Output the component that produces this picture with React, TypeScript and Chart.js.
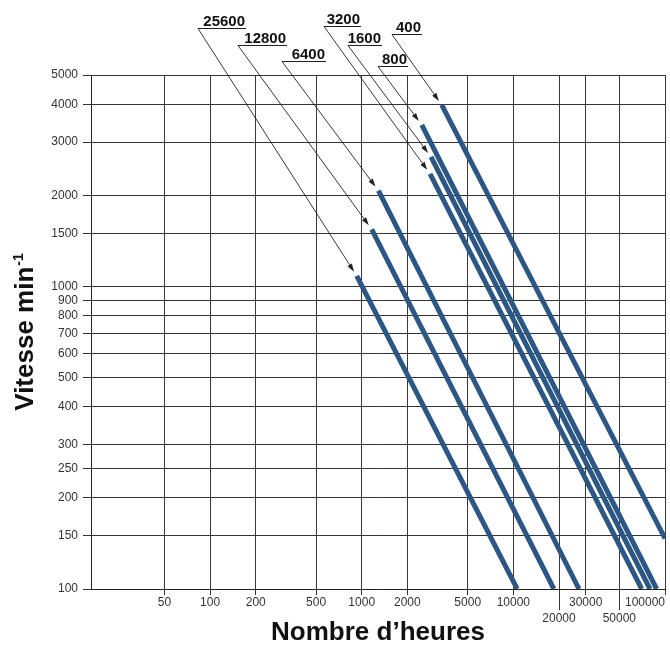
import React, { useEffect, useRef } from 'react';
import { Chart, registerables } from 'chart.js';

Chart.register(...registerables);

// ---- data ----
const SERIES_LABELS = ['400', '800', '1600', '3200', '6400', '12800', '25600'];
const HOURS_START = [3370, 2490, 2865, 2824, 1289, 1164, 927];
const SPEED_START = [3980, 3420, 2680, 2355, 2075, 1545, 1084];
const HOURS_END = [100000, 88100, 79600, 70200, 27100, 18500, 10600];
const SPEED_END = [147, 100, 100, 100, 100, 100, 100];

const X_MIN = 16.4;
const X_MAX = 100000;
const X_TICKS = [16.4, 50, 100, 200, 500, 1000, 2000, 5000, 10000, 20000, 30000, 50000, 100000];
const X_TICK_LABELS = ['', '50', '100', '200', '500', '1000', '2000', '5000', '10000', '20000', '30000', '50000', '100000'];
const X_LOWER_ROW = [20000, 50000];

const Y_MIN = 100;
const Y_MAX = 5000;
const Y_TICKS = [100, 150, 200, 250, 300, 400, 500, 600, 700, 800, 900, 1000, 1500, 2000, 3000, 4000, 5000];
const Y_TICK_LABELS = ['100', '150', '200', '250', '300', '400', '500', '600', '700', '800', '900', '1000', '1500', '2000', '3000', '4000', '5000'];

const X_TITLE = 'Nombre d\u2019heures';
const Y_TITLE_MAIN = 'Vitesse min';
const Y_TITLE_SUP = '-1';

// ---- layout / style (not data) ----
const FONT = '"Liberation Sans", Arial, Helvetica, sans-serif';
const LINE_COLOR = '#2c5784';
// callout label anchors relative to chart area (underline left end), underline length
const CALLOUTS = [
  { dx: 301, dy: -41, len: 30 },
  { dx: 287, dy: -9, len: 30 },
  { dx: 257, dy: -30, len: 34 },
  { dx: 233, dy: -49, len: 37 },
  { dx: 191, dy: -14, len: 44 },
  { dx: 147, dy: -30, len: 49 },
  { dx: 107, dy: -47, len: 48 },
];

const overlayPlugin = {
  id: 'overlay',
  afterDraw(chart: any) {
    const { ctx, chartArea, scales } = chart;
    const xs = scales.x;
    const ys = scales.y;
    ctx.save();

    // longer ticks for lower-row labels
    ctx.strokeStyle = '#333';
    ctx.lineWidth = 1;
    X_LOWER_ROW.forEach((v) => {
      const px = Math.round(xs.getPixelForValue(v)) + 0.5;
      ctx.beginPath();
      ctx.moveTo(px, chartArea.bottom);
      ctx.lineTo(px, chartArea.bottom + 21);
      ctx.stroke();
    });

    // callouts
    chart.data.datasets.forEach((ds: any, i: number) => {
      const c = CALLOUTS[i];
      const ax = chartArea.left + c.dx;
      const ay = chartArea.top + c.dy + 0.5;
      const p0 = ds.data[0];
      const tx = xs.getPixelForValue(p0.x);
      const ty = ys.getPixelForValue(p0.y);
      const ddx = tx - ax;
      const ddy = ty - ay;
      const d = Math.hypot(ddx, ddy);
      const ux = ddx / d;
      const uy = ddy / d;
      const ex = tx - ux * 5;
      const ey = ty - uy * 5;

      ctx.strokeStyle = '#222';
      ctx.lineWidth = 1;
      ctx.beginPath();
      ctx.moveTo(ax, ay);
      ctx.lineTo(ax + c.len, ay);
      ctx.stroke();

      ctx.lineWidth = 0.9;
      ctx.beginPath();
      ctx.moveTo(ax, ay);
      ctx.lineTo(ex - ux * 6, ey - uy * 6);
      ctx.stroke();

      ctx.fillStyle = '#222';
      ctx.beginPath();
      ctx.moveTo(ex, ey);
      ctx.lineTo(ex - ux * 8 - uy * 2.6, ey - uy * 8 + ux * 2.6);
      ctx.lineTo(ex - ux * 8 + uy * 2.6, ey - uy * 8 - ux * 2.6);
      ctx.closePath();
      ctx.fill();

      ctx.font = 'bold 15px ' + FONT;
      ctx.textAlign = 'right';
      ctx.textBaseline = 'alphabetic';
      ctx.fillStyle = '#111';
      ctx.fillText(ds.label, ax + c.len - 1, ay - 3);
    });

    // y-axis title with superscript
    ctx.translate(24, (chartArea.top + chartArea.bottom) / 2);
    ctx.rotate(-Math.PI / 2);
    ctx.font = 'bold 26px ' + FONT;
    const w1 = ctx.measureText(Y_TITLE_MAIN).width;
    ctx.font = 'bold 14px ' + FONT;
    const w2 = ctx.measureText(Y_TITLE_SUP).width;
    const start = -(w1 + w2 + 1) / 2;
    ctx.textAlign = 'left';
    ctx.textBaseline = 'alphabetic';
    ctx.fillStyle = '#111';
    ctx.font = 'bold 26px ' + FONT;
    ctx.fillText(Y_TITLE_MAIN, start, 9);
    ctx.font = 'bold 14px ' + FONT;
    ctx.fillText(Y_TITLE_SUP, start + w1 + 1, -1);

    ctx.restore();
  },
};

export default function App() {
  const ref = useRef<HTMLCanvasElement>(null);

  useEffect(() => {
    const datasets = SERIES_LABELS.map((label, i) => ({
      label,
      data: [
        { x: HOURS_START[i], y: SPEED_START[i] },
        { x: HOURS_END[i], y: SPEED_END[i] },
      ],
      borderColor: LINE_COLOR,
      backgroundColor: LINE_COLOR,
      borderWidth: 5,
      borderCapStyle: 'butt' as const,
      pointRadius: 0,
      pointHoverRadius: 0,
      fill: false,
      tension: 0,
    }));

    const chart = new Chart(ref.current!, {
      type: 'line',
      data: { datasets },
      plugins: [overlayPlugin],
      options: {
        responsive: false,
        animation: false,
        devicePixelRatio: 1,
        layout: { padding: { top: 75, right: 5, left: 0, bottom: 0 } },
        plugins: {
          legend: { display: false },
          tooltip: { enabled: false },
        },
        scales: {
          x: {
            type: 'logarithmic',
            position: 'bottom',
            min: X_MIN,
            max: X_MAX,
            afterBuildTicks: (s: any) => {
              s.ticks = X_TICKS.map((v) => ({ value: v }));
            },
            afterFit: (s: any) => {
              s.height = 59;
            },
            ticks: {
              autoSkip: false,
              maxRotation: 0,
              minRotation: 0,
              align: 'inner',
              padding: 0,
              color: '#333',
              font: { family: FONT, size: 12, lineHeight: 16 / 12 },
              callback: (_v: any, i: number) =>
                X_LOWER_ROW.includes(X_TICKS[i]) ? ['', X_TICK_LABELS[i]] : X_TICK_LABELS[i],
            },
            grid: {
              color: (c: any) => (c.index === 0 ? 'rgba(0,0,0,0)' : '#3a3a3a'),
              tickColor: (c: any) => (c.index === 0 ? 'rgba(0,0,0,0)' : '#333'),
              lineWidth: 1,
              tickLength: 6,
            },
            border: { color: '#222', width: 1 },
            title: {
              display: true,
              text: X_TITLE,
              color: '#111',
              font: { family: FONT, size: 26, weight: 'bold' },
              padding: { top: 0, bottom: 0 },
            },
          },
          y: {
            type: 'logarithmic',
            position: 'left',
            min: Y_MIN,
            max: Y_MAX,
            afterBuildTicks: (s: any) => {
              s.ticks = Y_TICKS.map((v) => ({ value: v }));
            },
            afterFit: (s: any) => {
              s.width = 91;
            },
            ticks: {
              autoSkip: false,
              padding: 5,
              color: '#333',
              font: { family: FONT, size: 12 },
              callback: (_v: any, i: number) => Y_TICK_LABELS[i],
            },
            grid: {
              color: '#333',
              tickColor: '#333',
              lineWidth: 1,
              tickLength: 8,
            },
            border: { color: '#222', width: 1 },
          },
        },
      } as any,
    });

    return () => chart.destroy();
  }, []);

  return (
    <div style={{ position: 'fixed', left: 0, top: 0, width: 670, height: 648, background: '#fff' }}>
      <canvas ref={ref} width={670} height={648} style={{ display: 'block', width: 670, height: 648 }} />
    </div>
  );
}
